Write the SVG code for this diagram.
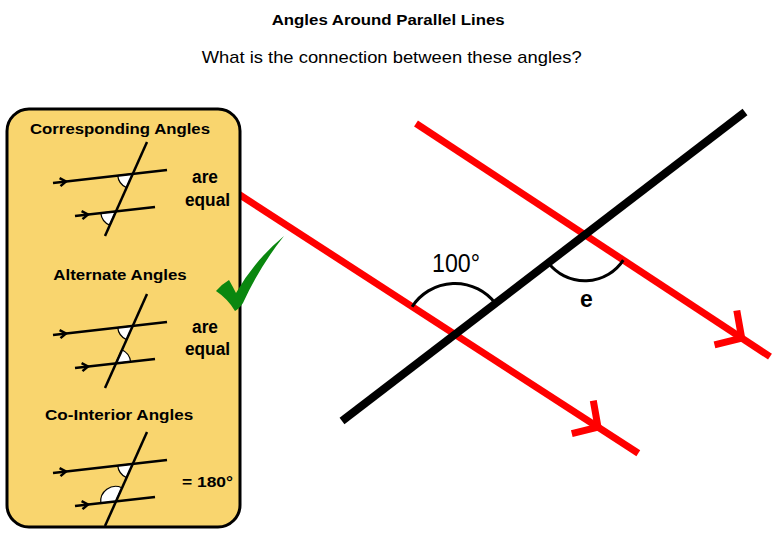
<svg xmlns="http://www.w3.org/2000/svg" xmlns:xlink="http://www.w3.org/1999/xlink" width="780" height="540" viewBox="0 0 780 540">
<style>
.t{font-family:"Liberation Sans",Arial,sans-serif;fill:#000}
.b{font-weight:bold}
.red{stroke:#FF0000;stroke-width:7;fill:none}
.blk{stroke:#000;stroke-width:8;fill:none}
.arc{stroke:#000;stroke-width:3;fill:none}
.ml{stroke:#000;stroke-width:2.5;fill:none}
.wedge{fill:#fff;stroke:#000;stroke-width:1.2}
</style>
<defs>
<path id="chev" d="M-6,-4 L0,0 L-6,4" stroke="#000" stroke-width="2.5" fill="none"/>
<g id="mini">
<line class="ml" x1="53" y1="183" x2="167" y2="170"/>
<line class="ml" x1="75" y1="216" x2="155" y2="207"/>
<line class="ml" x1="147" y1="142" x2="105" y2="236"/>
<use xlink:href="#chev" href="#chev" transform="translate(66,181.5) rotate(-6.5)"/>
<use xlink:href="#chev" href="#chev" transform="translate(88,214.5) rotate(-6.5)"/>
</g>
</defs>
<rect width="780" height="540" fill="#fff"/>
<g id="title">
<text class="t b" x="271.7" y="25" font-size="14.5" textLength="233" lengthAdjust="spacingAndGlyphs">Angles Around Parallel Lines</text>
<text class="t" x="201.7" y="63" font-size="17" textLength="380" lengthAdjust="spacingAndGlyphs">What is the connection between these angles?</text>
</g>
<g id="connectors">
<line class="red" x1="225" y1="185.3" x2="638.3" y2="453.3"/>
<path class="red" d="M571.8,433.7 L598,427.2 L593.3,400.6"/>
<line class="red" x1="416" y1="123.5" x2="770" y2="356.7"/>
<path class="red" d="M714.5,344.9 L741.7,338.1 L736.8,310.5"/>
<line class="blk" x1="342" y1="421" x2="745" y2="112"/>
<path class="arc" d="M412.1,306.7 A51,51 0 0 1 495.4,303.4"/>
<path class="arc" d="M548.4,262.8 A46,46 0 0 0 623.3,260.1"/>
</g>
<g id="label-100">
<text class="t" x="432" y="272" font-size="25" textLength="48" lengthAdjust="spacingAndGlyphs">100°</text>
</g>
<g id="label-e">
<text class="t b" x="586.5" y="307" font-size="23" text-anchor="middle">e</text>
</g>
<g id="panel">
<rect x="7" y="109" width="233" height="418" rx="22" ry="22" fill="#F9D56E" stroke="#000" stroke-width="3"/>
</g>
<g id="corresponding">
<text class="t b" x="30" y="133.7" font-size="14.5" textLength="180" lengthAdjust="spacingAndGlyphs">Corresponding Angles</text>
<path class="wedge" d="M132.6,173.9 L117.7,175.6 A15,15 0 0 0 126.5,187.6 Z"/>
<path class="wedge" d="M115.7,211.4 L100.8,213.1 A15,15 0 0 0 109.6,225.1 Z"/>
<use xlink:href="#mini" href="#mini"/>
<text class="t b" x="192" y="183" font-size="18" textLength="26" lengthAdjust="spacingAndGlyphs">are</text>
<text class="t b" x="185" y="206" font-size="18" textLength="45" lengthAdjust="spacingAndGlyphs">equal</text>
</g>
<g id="alternate">
<text class="t b" x="53.3" y="280.3" font-size="14.5" textLength="133.4" lengthAdjust="spacingAndGlyphs">Alternate Angles</text>
<path class="wedge" d="M132.6,325.9 L117.7,327.6 A15,15 0 0 0 126.5,339.6 Z"/>
<path class="wedge" d="M115.7,363.4 L130.6,361.7 A15,15 0 0 0 121.8,349.7 Z"/>
<use xlink:href="#mini" href="#mini" transform="translate(0,152)"/>
<text class="t b" x="192" y="333" font-size="18" textLength="26" lengthAdjust="spacingAndGlyphs">are</text>
<text class="t b" x="185" y="355" font-size="18" textLength="45" lengthAdjust="spacingAndGlyphs">equal</text>
</g>
<g id="cointerior">
<text class="t b" x="45" y="420" font-size="14.5" textLength="148.3" lengthAdjust="spacingAndGlyphs">Co-Interior Angles</text>
<path class="wedge" d="M132.6,463.9 L117.7,465.6 A15,15 0 0 0 126.5,477.6 Z"/>
<path class="wedge" d="M115.7,501.4 L100.8,503.1 A15,15 0 0 1 121.8,487.7 Z"/>
<use xlink:href="#mini" href="#mini" transform="translate(0,290)"/>
<text class="t b" x="182" y="487" font-size="14" textLength="51" lengthAdjust="spacingAndGlyphs">= 180°</text>
</g>
<g id="checkmark">
<path fill="#0A870F" d="M216,291 Q222,284 229,280 Q233,287 236,293 Q254,261 284,236 Q260,266 243,303 Q239,309 235,311 Q228,299 216,291 Z"/>
</g>
</svg>
